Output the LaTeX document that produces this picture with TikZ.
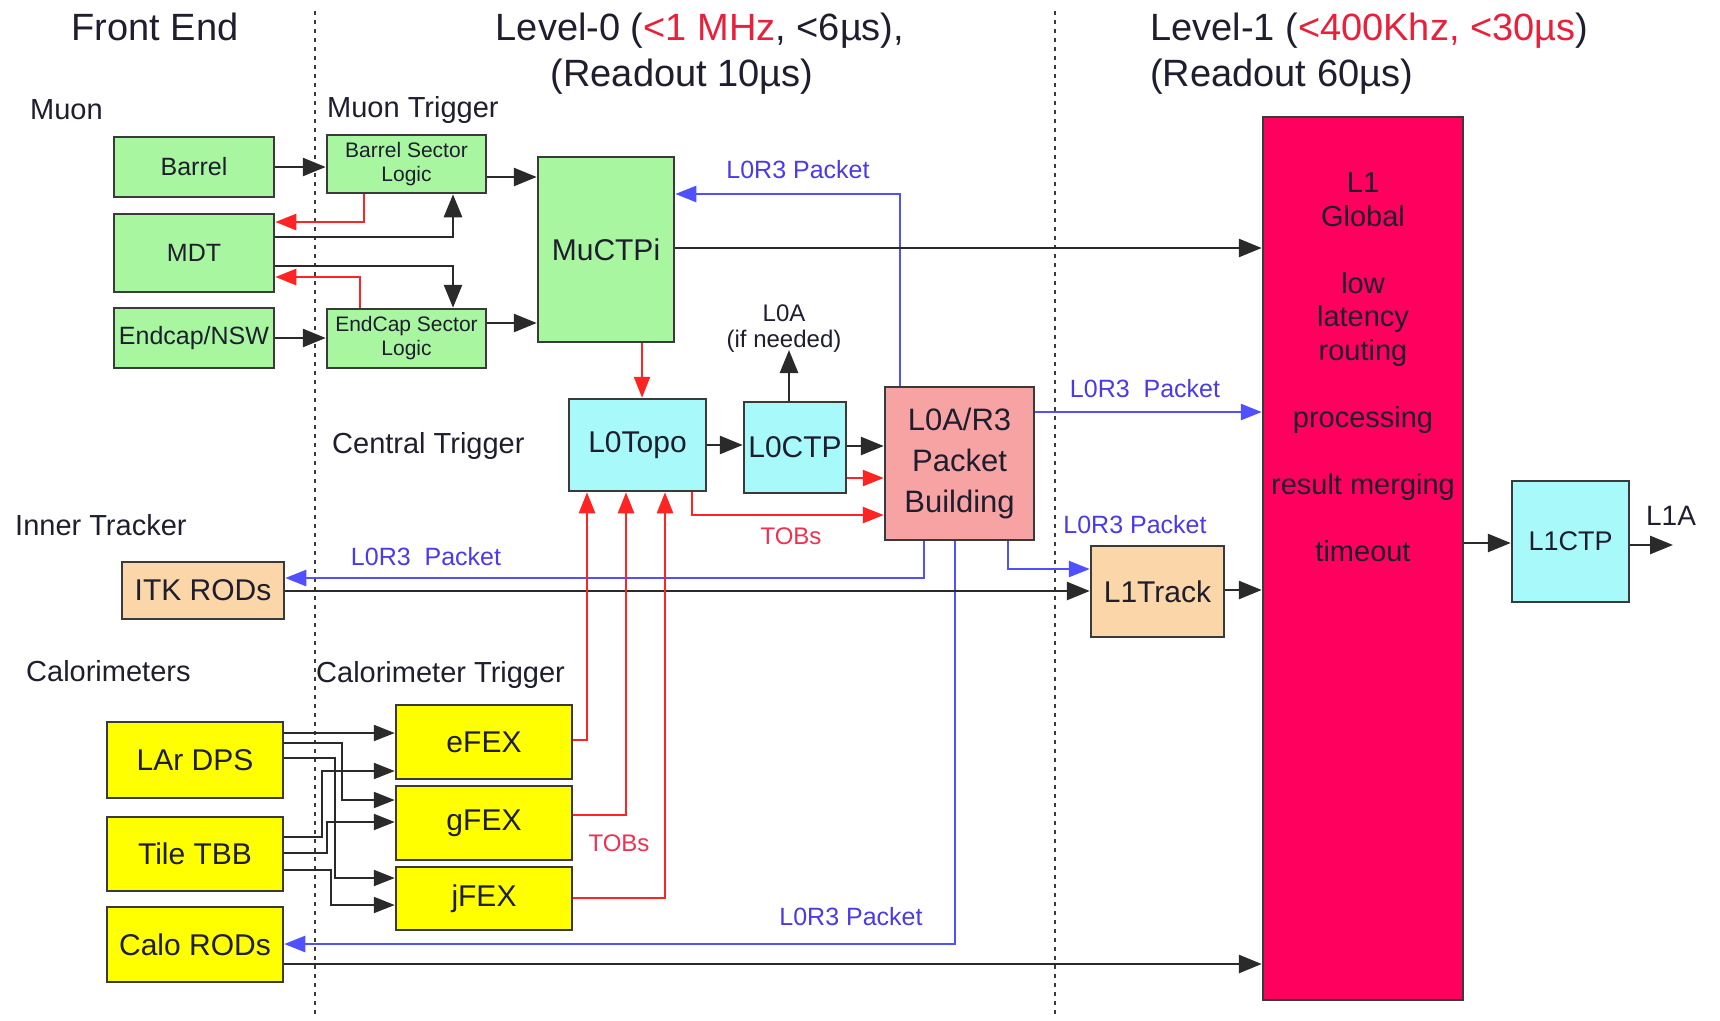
\documentclass[tikz,border=0pt]{standalone}
\usepackage{fontspec}
\setmainfont{Liberation Sans}
\usetikzlibrary{arrows.meta}
\definecolor{bgreen}{HTML}{A8F7A0}
\definecolor{bcyan}{HTML}{A8FAFA}
\definecolor{bsalmon}{HTML}{F8A3A3}
\definecolor{bpeach}{HTML}{FAD6A8}
\definecolor{byellow}{HTML}{FFFF00}
\definecolor{bpink}{HTML}{FF005F}
\definecolor{lblue}{HTML}{5050FF}
\definecolor{tblue}{HTML}{4A3AE8}
\definecolor{lred}{HTML}{FF2424}
\definecolor{tred}{HTML}{E8203A}
\definecolor{ttob}{HTML}{F03050}
\definecolor{bord}{HTML}{3A3A3A}
\definecolor{lblack}{HTML}{2A2A2A}
\definecolor{txt}{HTML}{1E1E2E}
\newcommand{\myfs}[2]{\fontsize{#1}{#2}\selectfont}
\begin{document}
\begin{tikzpicture}[x=1pt,y=-1pt,
  box/.style={draw=bord, line width=2.5pt, inner sep=0pt, align=center, text=txt, font=\myfs{30}{35}},
  blk/.style={draw=lblack, line width=2.8pt, -{Triangle[length=23pt,width=18pt]}},
  fan/.style={draw=lblack, line width=2.2pt, -{Triangle[length=21pt,width=16pt]}},
  redc/.style={draw=lred, line width=2.5pt, -{Triangle[length=21pt,width=16pt]}},
  bluc/.style={draw=lblue, line width=2.5pt, -{Triangle[length=21pt,width=16pt]}},
  lbl/.style={font=\myfs{25}{30}, text=tblue, inner sep=0pt},
  tobl/.style={font=\myfs{24}{30}, text=ttob, inner sep=0pt},
  sect/.style={font=\myfs{29}{34}, text=txt, anchor=west, inner sep=0pt},
  ttl/.style={font=\myfs{38}{46}, text=txt, inner sep=0pt},
  dotl/.style={draw=bord, line width=2.8pt, dash pattern=on 4pt off 5pt}
]
\useasboundingbox (0,0) rectangle (1720,1020);
\fill[white] (0,0) rectangle (1720,1020);

% dotted separators
\draw[dotl] (315,11) -- (315,1015);
\draw[dotl] (1055,11) -- (1055,1015);

% titles
\node[ttl] (fe) at (155,27) {Front End};
\node[ttl, align=center] (lv0) at (700,54) {Level-0 (\textcolor{tred}{<1 MHz}, <6µs),\\\hspace*{-36pt}(Readout 10µs)};
\node[ttl, align=left, anchor=west] (lv1) at (1150,54) {Level-1 (\textcolor{tred}{<400Khz, <30µs})\\(Readout 60µs)};

% section labels
\node[sect] (smuon) at (30,110) {Muon};
\node[sect] (smt) at (327,110) {Muon Trigger};
\node[sect] (sct) at (332,446) {Central Trigger};
\node[sect] (sit) at (15,525) {Inner Tracker};
\node[sect] (scal) at (26,671) {Calorimeters};
\node[sect] (sclt) at (316,675) {Calorimeter Trigger};

% boxes
\node[box, fill=bgreen, minimum width=160pt, minimum height=60pt, font=\myfs{25}{30}] (barrel) at (194,167) {Barrel};
\node[box, fill=bgreen, minimum width=160pt, minimum height=78pt, font=\myfs{25}{30}] (mdt) at (194,253) {MDT};
\node[box, fill=bgreen, minimum width=160pt, minimum height=60pt, font=\myfs{25}{30}] (endcap) at (194,338) {Endcap/NSW};
\node[box, fill=bgreen, minimum width=159pt, minimum height=58pt, font=\myfs{21}{24}] (bsl) at (406.5,164) {Barrel Sector\\Logic};
\node[box, fill=bgreen, minimum width=159pt, minimum height=59pt, font=\myfs{21}{24}] (ecsl) at (406.5,338.5) {EndCap Sector\\Logic};
\node[box, fill=bgreen, minimum width=136pt, minimum height=185pt] (muctpi) at (606,249.5) {MuCTPi};
\node[box, fill=bcyan, minimum width=137pt, minimum height=92pt] (l0topo) at (637.5,445) {L0Topo};
\node[box, fill=bcyan, minimum width=102pt, minimum height=91pt] (l0ctp) at (795,447.5) {L0CTP};
\node[box, fill=bsalmon, minimum width=149pt, minimum height=153pt, font=\myfs{31}{41}] (pkt) at (959.5,463.5) {L0A/R3\\Packet\\Building};
\node[box, fill=bpink, minimum width=200pt, minimum height=883pt] (l1g) at (1363,558.5) {};
\node[font=\myfs{29}{33.5}, align=center, text=txt, inner sep=0pt] (l1gtext) at (1363,367) {L1\\Global\\[33.5pt]low\\latency\\routing\\[33.5pt]processing\\[33.5pt]result merging\\[33.5pt]timeout};
\node[box, fill=bcyan, minimum width=117pt, minimum height=121pt, font=\myfs{27}{32}] (l1ctp) at (1570.5,541.5) {L1CTP};
\node[box, fill=bpeach, minimum width=133pt, minimum height=91pt] (l1track) at (1157.5,591.5) {L1Track};
\node[box, fill=bpeach, minimum width=162pt, minimum height=57pt] (itk) at (203,590.5) {ITK RODs};
\node[box, fill=byellow, minimum width=176pt, minimum height=76pt] (lar) at (195,760) {LAr DPS};
\node[box, fill=byellow, minimum width=176pt, minimum height=74pt] (tile) at (195,854) {Tile TBB};
\node[box, fill=byellow, minimum width=176pt, minimum height=75pt] (calo) at (195,944.5) {Calo RODs};
\node[box, fill=byellow, minimum width=176pt, minimum height=74pt] (efex) at (484,742) {eFEX};
\node[box, fill=byellow, minimum width=176pt, minimum height=74pt] (gfex) at (484,823) {gFEX};
\node[box, fill=byellow, minimum width=176pt, minimum height=63pt] (jfex) at (484,898.5) {jFEX};

% labels
\node[lbl] (pk1) at (798,170) {L0R3 Packet};
\node[lbl] (pk2) at (1145,389) {L0R3\ \ Packet};
\node[lbl] (pk3) at (1135,525) {L0R3 Packet};
\node[lbl] (pk4) at (426,557) {L0R3\ \ Packet};
\node[lbl] (pk5) at (851,917) {L0R3 Packet};
\node[tobl] (tob1) at (791,536) {TOBs};
\node[tobl] (tob2) at (619,843) {TOBs};
\node[font=\myfs{24}{30}, text=txt, inner sep=0pt] (l0alab) at (784,313) {L0A};
\node[font=\myfs{24}{30}, text=txt, inner sep=0pt] (ifn) at (784,341) {(if needed)};
\node[font=\myfs{28}{32}, text=txt, inner sep=0pt] (l1alab) at (1671,516) {L1A};

% muon connectors
\draw[blk] (barrel.east) -- (bsl.west |- barrel.east);
\coordinate (m1) at (0,177);
\draw[blk] (bsl.east |- m1) -- (muctpi.west |- m1);
\coordinate (m2) at (364,222);
\draw[redc] (bsl.south -| m2) |- (mdt.east |- m2);
\coordinate (m3) at (453,237);
\draw[blk] (mdt.east |- m3) -| (bsl.south -| m3);
\coordinate (m4) at (453,266);
\draw[blk] (mdt.east |- m4) -| (ecsl.north -| m4);
\coordinate (m5) at (360,277);
\draw[redc] (ecsl.north -| m5) |- (mdt.east |- m5);
\draw[blk] (endcap.east) -- (ecsl.west |- endcap.east);
\coordinate (m6) at (0,323);
\draw[blk] (ecsl.east |- m6) -- (muctpi.west |- m6);
\coordinate (m9) at (900,194);
\draw[bluc] (pkt.north -| m9) |- (muctpi.east |- m9);
\coordinate (m7) at (0,248);
\draw[blk] (muctpi.east |- m7) -- (l1g.west |- m7);
\coordinate (m8) at (642,0);
\draw[redc] (muctpi.south -| m8) -- (l0topo.north -| m8);

% central trigger
\coordinate (c1) at (0,445);
\draw[blk] (l0topo.east |- c1) -- (l0ctp.west |- c1);
\coordinate (c2) at (0,446);
\draw[blk] (l0ctp.east |- c2) -- (pkt.west |- c2);
\coordinate (c3) at (0,478);
\draw[redc] (l0ctp.east |- c3) -- (pkt.west |- c3);
\coordinate (c4) at (692,515);
\draw[redc] (l0topo.south -| c4) |- (pkt.west |- c4);
\coordinate (c5) at (789,350);
\draw[blk] (l0ctp.north -| c5) -- (c5);

% blue packet lines
\coordinate (b1) at (924,578);
\draw[bluc] (pkt.south -| b1) |- (itk.east |- b1);
\coordinate (b2) at (955,944);
\draw[bluc] (pkt.south -| b2) |- (calo.east |- b2);
\coordinate (b3) at (1008,569);
\draw[bluc] (pkt.south -| b3) |- (l1track.west |- b3);
\coordinate (b4) at (0,412);
\draw[bluc] (pkt.east |- b4) -- (l1g.west |- b4);

% black data lines
\coordinate (k1) at (0,591);
\draw[blk] (itk.east |- k1) -- (l1track.west |- k1);
\coordinate (k2) at (0,590);
\draw[blk] (l1track.east |- k2) -- (l1g.west |- k2);
\coordinate (k3) at (0,543);
\draw[blk] (l1g.east |- k3) -- (l1ctp.west |- k3);
\coordinate (k4) at (1673,545);
\draw[blk] (l1ctp.east |- k4) -- (k4);
\coordinate (k5) at (0,964);
\draw[blk] (calo.east |- k5) -- (l1g.west |- k5);

% FEX TOBs to L0Topo
\coordinate (e1) at (587,740);
\draw[redc] (efex.east |- e1) -| (l0topo.south -| e1);
\coordinate (e2) at (626,815);
\draw[redc] (gfex.east |- e2) -| (l0topo.south -| e2);
\coordinate (e3) at (665,898);
\draw[redc] (jfex.east |- e3) -| (l0topo.south -| e3);

% calorimeter fan-out
\coordinate (f1) at (0,733);
\draw[fan] (lar.east |- f1) -- (efex.west |- f1);
\coordinate (f2a) at (0,743); \coordinate (f2b) at (342,800);
\draw[fan] (lar.east |- f2a) -| (f2b) -- (gfex.west |- f2b);
\coordinate (f3a) at (0,758); \coordinate (f3b) at (335,878);
\draw[fan] (lar.east |- f3a) -| (f3b) -- (jfex.west |- f3b);
\coordinate (f4a) at (0,837); \coordinate (f4b) at (322,771);
\draw[fan] (tile.east |- f4a) -| (f4b) -- (efex.west |- f4b);
\coordinate (f5a) at (0,853); \coordinate (f5b) at (327,822);
\draw[fan] (tile.east |- f5a) -| (f5b) -- (gfex.west |- f5b);
\coordinate (f6a) at (0,870); \coordinate (f6b) at (331,905);
\draw[fan] (tile.east |- f6a) -| (f6b) -- (jfex.west |- f6b);
\end{tikzpicture}
\end{document}
